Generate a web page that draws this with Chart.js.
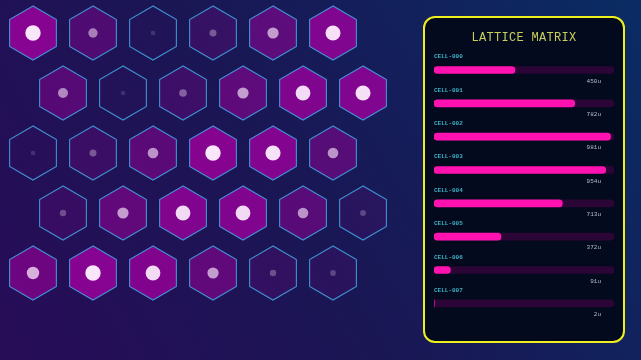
<!DOCTYPE html>
<html lang="en">
<head>
  <meta charset="UTF-8">
  <title>Lattice Matrix</title>
  <script src="https://cdn.jsdelivr.net/npm/chart.js"></script>
  <style>
    html, body { margin: 0; padding: 0; }
    body {
      width: 641px; height: 360px; overflow: hidden; position: relative;
      background: linear-gradient(60deg, #280c58 0%, #1a1654 45%, #0a2c64 100%);
    }
    #hexChart { position: absolute; left: 0; top: 0; }
    .panel {
      position: absolute; left: 423px; top: 16px; width: 198px; height: 323px;
      border: 2px solid #eef01e; border-radius: 12px; background: #040a1e;
    }
    .panel h1 {
      margin: 0; position: absolute; top: 13px; width: 100%; text-align: center;
      font: 12px "Courier New", "Liberation Mono", monospace; color: #c9cf5a; letter-spacing: 0.3px;
    }
    #barChart { position: absolute; left: 425px; top: 44px; }
  </style>
</head>
<body>
  <canvas id="hexChart" width="641" height="360"></canvas>
  <div class="panel"><h1>LATTICE MATRIX</h1></div>
  <canvas id="barChart" width="198" height="290"></canvas>

  <script>
    // hex lattice intensities, one list per row (odd rows are shifted half a cell)
    const row0 = [0.95, 0.45, 0.05, 0.25, 0.6, 0.92];
    const row1 = [0.5, 0.04, 0.3, 0.6, 0.9, 0.92];
    const row2 = [0.05, 0.25, 0.55, 0.95, 0.93, 0.55];
    const row3 = [0.2, 0.6, 0.9, 0.9, 0.55, 0.15];
    const row4 = [0.7, 0.95, 0.9, 0.6, 0.2, 0.15];
    const gridRows = [row0, row1, row2, row3, row4];

    // panel bars
    const cellLabels = ['CELL-000', 'CELL-001', 'CELL-002', 'CELL-003', 'CELL-004', 'CELL-005', 'CELL-006', 'CELL-007'];
    const cellAmounts = [450, 782, 981, 954, 713, 372, 91, 2];
    const amountMax = 1000;

    const hexPoints = [];
    gridRows.forEach((row, r) => {
      row.forEach((v, c) => hexPoints.push({ x: c + (r % 2) * 0.5, y: r, v }));
    });

    const hexPlugin = {
      id: 'hexes',
      afterDatasetsDraw(chart) {
        const ctx = chart.ctx;
        const xs = chart.scales.x;
        const unit = xs.getPixelForValue(1) - xs.getPixelForValue(0);
        const rad = unit * 0.45;
        const meta = chart.getDatasetMeta(0);
        meta.data.forEach((pt, i) => {
          const v = hexPoints[i].v;
          ctx.save();
          ctx.beginPath();
          for (let k = 0; k < 6; k++) {
            const a = Math.PI / 2 + k * Math.PI / 3;
            const px = pt.x + rad * Math.cos(a), py = pt.y - rad * Math.sin(a);
            k ? ctx.lineTo(px, py) : ctx.moveTo(px, py);
          }
          ctx.closePath();
          ctx.fillStyle = `rgba(158, 0, 158, ${v * 0.86})`;
          ctx.fill();
          ctx.strokeStyle = 'rgba(68, 168, 228, 0.85)';
          ctx.lineWidth = 1.1;
          ctx.stroke();
          ctx.beginPath();
          ctx.arc(pt.x, pt.y, 2 + 6 * v, 0, Math.PI * 2);
          ctx.fillStyle = `rgba(255, 240, 255, ${0.1 + 0.9 * v})`;
          ctx.fill();
          ctx.restore();
        });
      }
    };

    new Chart(document.getElementById('hexChart'), {
      type: 'scatter',
      data: { datasets: [{ data: hexPoints, pointRadius: 0 }] },
      options: {
        responsive: false, animation: false,
        layout: { padding: 0 },
        plugins: { legend: { display: false }, tooltip: { enabled: false } },
        scales: {
          x: { display: false, min: -0.55, max: 10.133 },
          y: { display: false, reverse: true, min: -0.55, max: 5.45 }
        }
      },
      plugins: [hexPlugin]
    });

    const labelPlugin = {
      id: 'cellText',
      afterDatasetsDraw(chart) {
        const ctx = chart.ctx;
        const area = chart.chartArea;
        chart.getDatasetMeta(0).data.forEach((bar, i) => {
          ctx.save();
          ctx.font = 'bold 6px "Courier New", "Liberation Mono", monospace';
          ctx.fillStyle = '#3fb2c4';
          ctx.textBaseline = 'middle';
          ctx.textAlign = 'left';
          ctx.fillText(cellLabels[i], area.left, bar.y - 13);
          ctx.font = '6px "Courier New", "Liberation Mono", monospace';
          ctx.fillStyle = '#b4bccb';
          ctx.textAlign = 'right';
          ctx.fillText(cellAmounts[i] + 'u', area.right - 13, bar.y + 11);
          ctx.restore();
        });
      }
    };

    new Chart(document.getElementById('barChart'), {
      type: 'bar',
      data: {
        labels: cellLabels,
        datasets: [
          { data: cellAmounts, backgroundColor: '#ff12b0', barThickness: 7, borderRadius: 4, borderSkipped: false },
          { data: cellLabels.map(() => amountMax), backgroundColor: '#2a0535', barThickness: 7, borderRadius: 4, borderSkipped: false }
        ]
      },
      options: {
        indexAxis: 'y', responsive: false, animation: false,
        layout: { padding: { left: 9, right: 9, top: 9.3, bottom: 14 } },
        datasets: { bar: { grouped: false } },
        plugins: { legend: { display: false }, tooltip: { enabled: false } },
        scales: {
          x: { display: false, min: 0, max: amountMax },
          y: { display: false }
        }
      },
      plugins: [labelPlugin]
    });
  </script>
</body>
</html>
